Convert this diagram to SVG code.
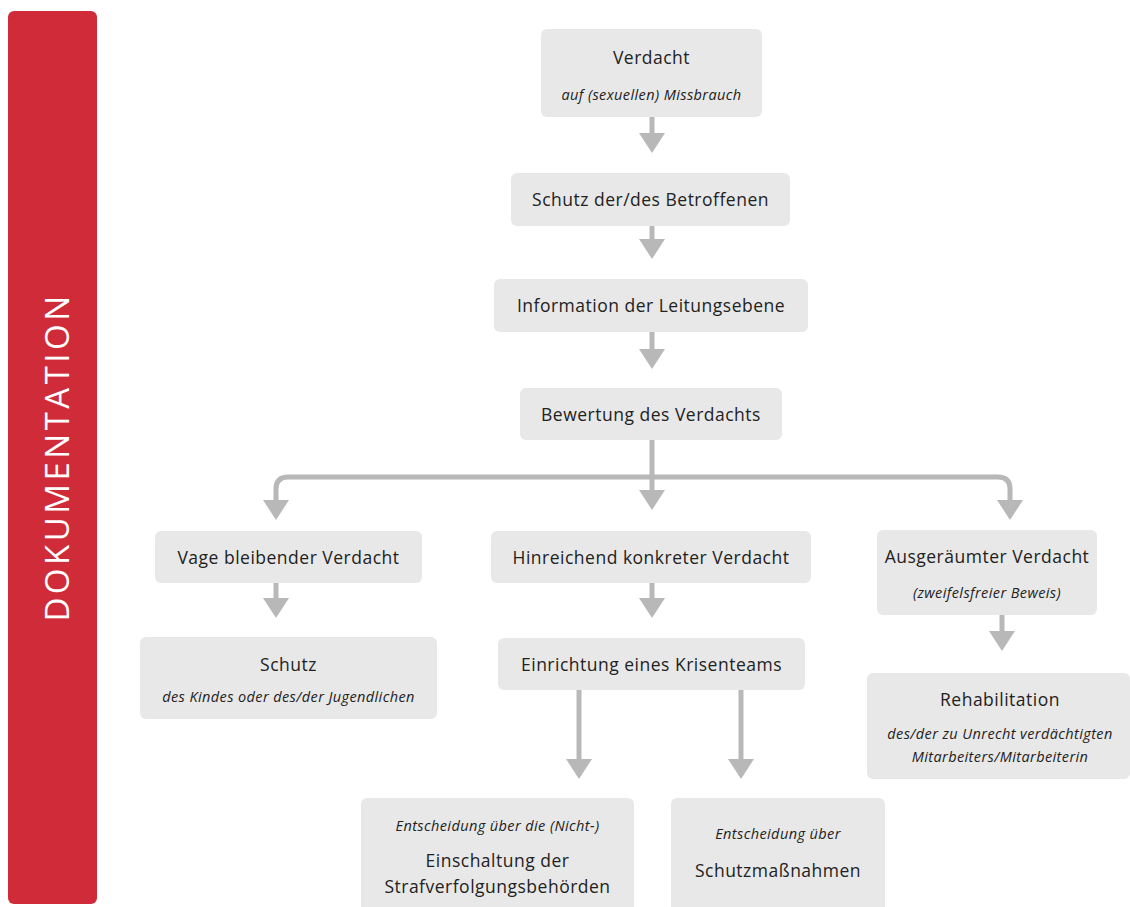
<svg xmlns="http://www.w3.org/2000/svg" width="1130" height="907" viewBox="0 0 1130 907">
<style>
.box{fill:#e8e8e8}
.t{font-family:"Open Sans","Noto Sans",sans-serif;font-size:17.5px;letter-spacing:0.5px;fill:#222;text-anchor:middle}
.i{font-family:"Open Sans","Noto Sans",sans-serif;font-size:14.5px;letter-spacing:0.4px;font-style:italic;fill:#222;text-anchor:middle}
.c{fill:none;stroke:#b8b8b8;stroke-width:5}
.ah{fill:#b8b8b8}
</style>
<rect x="8" y="11" width="89" height="893" rx="6" fill="#d02b38"/>
<text transform="translate(69 457) rotate(-90)" style="font-family:'Open Sans','Noto Sans',sans-serif;font-size:33px;fill:#fff;letter-spacing:3.5px" text-anchor="middle">DOKUMENTATION</text>
<g id="connectors">
<path class="c" d="M652 117 V134"/><path class="ah" d="M639 133 H665 L652 153 Z"/>
<path class="c" d="M652 226 V240"/><path class="ah" d="M639 239 H665 L652 259 Z"/>
<path class="c" d="M652 332 V350"/><path class="ah" d="M639 349 H665 L652 369 Z"/>
<path class="c" d="M652 440 V491"/><path class="ah" d="M639 490 H665 L652 510 Z"/>
<path class="c" d="M276 501 V489 Q276 477 288 477 H998 Q1010 477 1010 489 V501"/>
<path class="ah" d="M263 500 H289 L276 520 Z"/><path class="ah" d="M997 500 H1023 L1010 520 Z"/>
<path class="c" d="M276 583 V599"/><path class="ah" d="M263 598 H289 L276 618 Z"/>
<path class="c" d="M652 583 V599"/><path class="ah" d="M639 598 H665 L652 618 Z"/>
<path class="c" d="M1002 615 V632"/><path class="ah" d="M989 631 H1015 L1002 651 Z"/>
<path class="c" d="M579 690 V760"/><path class="ah" d="M566 759 H592 L579 779 Z"/>
<path class="c" d="M741 690 V760"/><path class="ah" d="M728 759 H754 L741 779 Z"/>
</g>
<g id="n1"><rect class="box" x="541" y="29" width="221" height="88" rx="6"/><text class="t" x="651.5" y="64">Verdacht</text><text class="i" x="651.5" y="100">auf (sexuellen) Missbrauch</text></g>
<g id="n2"><rect class="box" x="511" y="173" width="279" height="53" rx="6"/><text class="t" x="650.5" y="206">Schutz der/des Betroffenen</text></g>
<g id="n3"><rect class="box" x="494" y="279" width="314" height="53" rx="6"/><text class="t" x="651" y="312">Information der Leitungsebene</text></g>
<g id="n4"><rect class="box" x="520" y="388" width="262" height="52" rx="6"/><text class="t" x="651" y="421">Bewertung des Verdachts</text></g>
<g id="n5"><rect class="box" x="155" y="531" width="267" height="52" rx="6"/><text class="t" x="288.5" y="564">Vage bleibender Verdacht</text></g>
<g id="n6"><rect class="box" x="491" y="531" width="320" height="52" rx="6"/><text class="t" x="651" y="564">Hinreichend konkreter Verdacht</text></g>
<g id="n7"><rect class="box" x="877" y="530" width="220" height="85" rx="6"/><text class="t" x="987" y="563">Ausgeräumter Verdacht</text><text class="i" x="987" y="598">(zweifelsfreier Beweis)</text></g>
<g id="n8"><rect class="box" x="140" y="637" width="297" height="82" rx="6"/><text class="t" x="288.5" y="671">Schutz</text><text class="i" x="288.5" y="702">des Kindes oder des/der Jugendlichen</text></g>
<g id="n9"><rect class="box" x="498" y="638" width="307" height="52" rx="6"/><text class="t" x="651.5" y="671">Einrichtung eines Krisenteams</text></g>
<g id="n10"><rect class="box" x="867" y="673" width="263" height="106" rx="6"/><text class="t" x="1000" y="706">Rehabilitation</text><text class="i" x="1000" y="739">des/der zu Unrecht verdächtigten</text><text class="i" x="1000" y="762">Mitarbeiters/Mitarbeiterin</text></g>
<g id="n11"><rect class="box" x="361" y="798" width="273" height="115" rx="6"/><text class="i" x="497.5" y="831">Entscheidung über die (Nicht-)</text><text class="t" x="497.5" y="867">Einschaltung der</text><text class="t" x="497.5" y="893">Strafverfolgungsbehörden</text></g>
<g id="n12"><rect class="box" x="671" y="798" width="214" height="115" rx="6"/><text class="i" x="778" y="839">Entscheidung über</text><text class="t" x="778" y="877">Schutzmaßnahmen</text></g>
</svg>
